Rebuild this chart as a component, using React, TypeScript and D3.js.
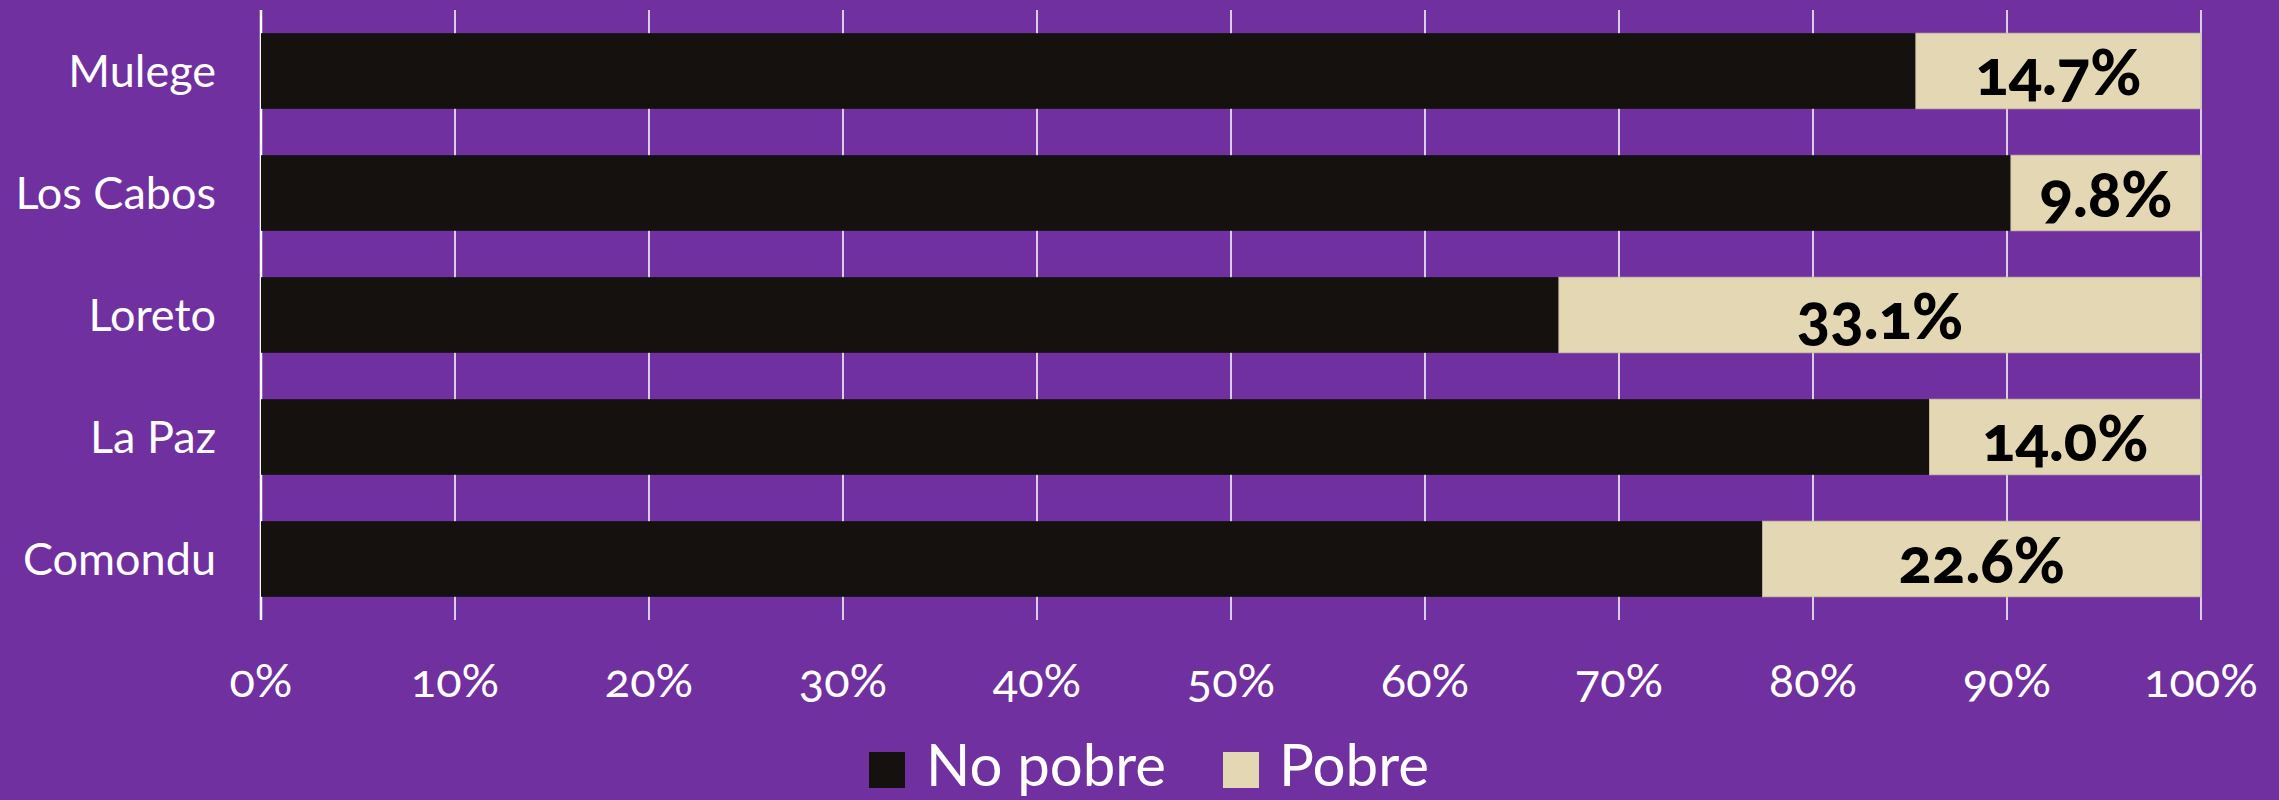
import React from 'react'
import * as d3 from 'd3'

const categories = ['Mulege', 'Los Cabos', 'Loreto', 'La Paz', 'Comondu']
const pobre = [14.7, 9.8, 33.1, 14.0, 22.6]
const noPobre = [85.3, 90.2, 66.9, 86.0, 77.4]
const xTicks = [0, 10, 20, 30, 40, 50, 60, 70, 80, 90, 100]
const seriesNames = ['No pobre', 'Pobre']

const W = 2279
const H = 800
const BG = '#7030a0'
const DARK = '#14110e'
const LIGHT = '#e4d8b4'
const FONT = 'Lato, "Open Sans", sans-serif'

export default function App() {
  const margin = { top: 10, left: 261, right: 78, bottom: 180 }
  const x = d3.scaleLinear().domain([0, 100]).range([margin.left, W - margin.right])
  const y = d3
    .scaleBand<string>()
    .domain(categories)
    .range([margin.top, H - margin.bottom])
    .paddingInner(0.38)
    .paddingOuter(0.19)

  const colors = [DARK, LIGHT]

  // legend layout
  const legend = [
    { sx: 869, tx: 926, tw: 240 },
    { sx: 1223, tx: 1279, tw: 150 },
  ]

  return (
    <div style={{ position: 'absolute', left: 0, top: 0 }}>
      <svg width={W} height={H} style={{ display: 'block' }}>
        <rect width={W} height={H} fill={BG} />

        {/* vertical gridlines */}
        {xTicks.map((t) => (
          <line
            key={t}
            x1={x(t)}
            x2={x(t)}
            y1={margin.top}
            y2={H - margin.bottom}
            stroke="#ffffff"
            strokeWidth={t === 0 ? 2.5 : 1.5}
          />
        ))}

        {/* stacked bars */}
        {categories.map((c, i) => {
          const y0 = y(c) as number
          const h = y.bandwidth()
          return (
            <g key={c}>
              <rect x={x(0)} y={y0} width={x(noPobre[i]) - x(0)} height={h} fill={colors[0]} />
              <rect
                x={x(noPobre[i])}
                y={y0}
                width={x(100) - x(noPobre[i])}
                height={h}
                fill={colors[1]}
                stroke="#c8bfa0"
                strokeWidth={0.8}
              />
              <text
                x={(x(noPobre[i]) + x(100)) / 2}
                y={y0 + h / 2 + 24}
                textAnchor="middle"
                fontFamily={FONT}
                fontWeight={900}
                fontSize={62}
                fill="#000"
                style={{ fontVariantNumeric: 'oldstyle-nums' }}
              >
                {pobre[i].toFixed(1)}%
              </text>
              <text
                x={216}
                y={y0 + h / 2 + 16}
                textAnchor="end"
                fontFamily={FONT}
                fontSize={45}
                fill="#ffffff"
              >
                {c}
              </text>
            </g>
          )
        })}

        {/* x tick labels */}
        {xTicks.map((t) => (
          <text
            key={'l' + t}
            x={x(t)}
            y={697}
            textAnchor="middle"
            fontFamily={FONT}
            fontSize={47}
            fill="#ffffff"
            style={{ fontVariantNumeric: 'oldstyle-nums' }}
          >
            {t}%
          </text>
        ))}

        {/* legend */}
        {seriesNames.map((s, i) => (
          <g key={s}>
            <rect x={legend[i].sx} y={752} width={36} height={36} fill={colors[i]} />
            <text
              x={legend[i].tx}
              y={786}
              fontFamily={FONT}
              fontSize={58}
              fill="#ffffff"
              textLength={legend[i].tw}
              lengthAdjust="spacingAndGlyphs"
            >
              {s}
            </text>
          </g>
        ))}
      </svg>
    </div>
  )
}
